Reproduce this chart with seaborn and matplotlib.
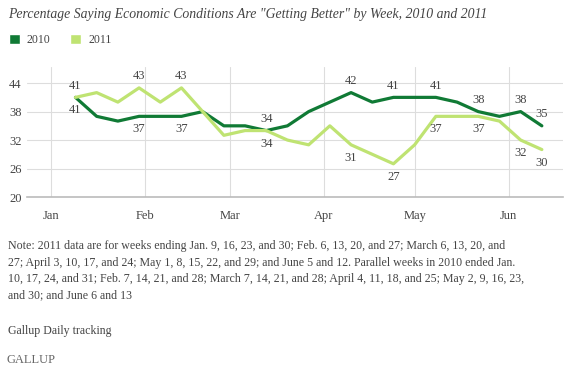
import pandas as pd
import numpy as np
import matplotlib.pyplot as plt
from matplotlib.patches import Patch
import seaborn as sns

# weekly values (2011 week-ending dates used as the shared x axis)
weeks = pd.date_range("2011-01-09", "2011-06-12", freq="7D")
vals_2010 = [41, 37, 36, 37, 37, 37, 38, 35, 35, 34, 35,
             38, 40, 42, 40, 41, 41, 41, 40, 38, 37, 38, 35]
vals_2011 = [41, 42, 40, 43, 40, 43, 38, 33, 34, 34, 32,
             31, 35, 31, 29, 27, 31, 37, 37, 37, 36, 32, 30]

# point labels: (index, position)
labels_2010 = [(0, "below"), (3, "below"), (5, "below"), (9, "above"), (13, "above"),
               (15, "above"), (17, "above"), (19, "above"), (21, "above"), (22, "above")]
labels_2011 = [(0, "above"), (3, "above"), (5, "above"), (9, "below"), (13, "below"),
               (15, "below"), (17, "below"), (19, "below"), (21, "below"), (22, "below")]

months = pd.date_range("2011-01-01", "2011-06-01", freq="MS")
month_labels = ["Jan", "Feb", "Mar", "Apr", "May", "Jun"]
y_ticks = [20, 26, 32, 38, 44]

colors = {"2010": "#107a35", "2011": "#bfe372"}

df = pd.DataFrame({
    "week": list(weeks) * 2,
    "value": vals_2010 + vals_2011,
    "year": ["2010"] * len(weeks) + ["2011"] * len(weeks),
})

sns.set_style("white")
plt.rcParams['font.family'] = ['Liberation Serif', 'DejaVu Serif']
text_col = "#444444"

fig = plt.figure(figsize=(5.7, 3.71), dpi=100)
ax = fig.add_axes([0.0474, 0.469, 0.9404, 0.3504])

sns.lineplot(data=df, x="week", y="value", hue="year", palette=colors,
             linewidth=2.3, ax=ax, legend=False)

for series, labs in [(vals_2010, labels_2010), (vals_2011, labels_2011)]:
    for i, pos in labs:
        off = 4 if pos == "above" else -5
        ax.annotate(str(series[i]), (weeks[i], series[i]), xytext=(0, off),
                    textcoords="offset points", ha="center",
                    va="bottom" if pos == "above" else "top",
                    fontsize=9, color=text_col)

ax.set_xlim(pd.Timestamp("2010-12-24"), pd.Timestamp("2011-06-19"))
ax.set_ylim(20, 47.4)
ax.set_yticks(y_ticks)
ax.set_xticks(months)
ax.set_xticklabels(month_labels)
ax.set_xlabel("")
ax.set_ylabel("")
ax.grid(True, color="#dddddd", linewidth=0.8)
ax.set_axisbelow(True)
for s in ["top", "right", "left"]:
    ax.spines[s].set_visible(False)
ax.spines["bottom"].set_color("#bbbbbb")
ax.spines["bottom"].set_linewidth(1.2)
ax.tick_params(axis="both", length=0, labelsize=9, colors=text_col)
ax.tick_params(axis="x", pad=9)
ax.tick_params(axis="y", pad=4)

fig.text(0.014, 0.962, 'Percentage Saying Economic Conditions Are "Getting Better" by Week, 2010 and 2011',
         fontsize=9.95, style="italic", color=text_col, va="center")

handles = [Patch(facecolor=colors["2010"]), Patch(facecolor=colors["2011"])]
fig.legend(handles, ["2010", "2011"], loc="center left", bbox_to_anchor=(-0.003, 0.893),
           ncol=2, frameon=False, fontsize=8.5, handlelength=0.9, handleheight=0.9,
           handletextpad=0.6, columnspacing=1.7, labelcolor=text_col)

note = ("Note: 2011 data are for weeks ending Jan. 9, 16, 23, and 30; Feb. 6, 13, 20, and 27; March 6, 13, 20, and\n"
        "27; April 3, 10, 17, and 24; May 1, 8, 15, 22, and 29; and June 5 and 12. Parallel weeks in 2010 ended Jan.\n"
        "10, 17, 24, and 31; Feb. 7, 14, 21, and 28; March 7, 14, 21, and 28; April 4, 11, 18, and 25; May 2, 9, 16, 23,\n"
        "and 30; and June 6 and 13")
fig.text(0.014, 0.353, note, fontsize=8.55, color=text_col, va="top", linespacing=1.5)
fig.text(0.014, 0.108, "Gallup Daily tracking", fontsize=8.55, color=text_col, va="center")
fig.text(0.012, 0.030, "GALLUP", fontsize=9, color="#666666", va="center")

fig.savefig("out.png", dpi=100)
